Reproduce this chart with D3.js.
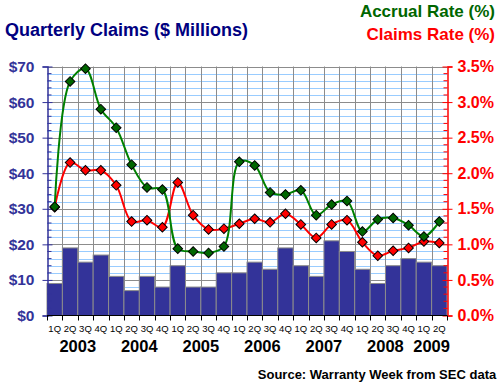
<!DOCTYPE html>
<html>
  <head>
    <meta charset="utf-8" />
    <script src="https://d3js.org/d3.v7.min.js"></script>
    <style>
      body { margin: 0; background: #ffffff; }
      text { font-family: Arial, "Liberation Sans", sans-serif; }
    </style>
  </head>
  <body>
    <div id="chart"></div>
    <script type="text/javascript">

      var w = 500, h = 387;

      var years = ["2003", "2004", "2005", "2006", "2007", "2008", "2009"];
      var quarters = [
        "1Q","2Q","3Q","4Q", "1Q","2Q","3Q","4Q", "1Q","2Q","3Q","4Q",
        "1Q","2Q","3Q","4Q", "1Q","2Q","3Q","4Q", "1Q","2Q","3Q","4Q",
        "1Q","2Q"
      ];
      // claims in $ millions
      var claims = [9, 19, 15, 17, 11, 7, 11, 8, 14, 8, 8, 12,
                    12, 15, 13, 19, 14, 11, 21, 18, 13, 9, 14, 16, 15, 14];
      // accrual rate (%)
      var accrualRate = [1.53, 3.29, 3.47, 2.90, 2.64, 2.12, 1.80, 1.77, 0.94, 0.90, 0.88, 0.97,
                         2.16, 2.11, 1.73, 1.70, 1.76, 1.41, 1.56, 1.61, 1.18, 1.35, 1.37, 1.27, 1.11, 1.32];
      // claims rate (%)
      var claimsRate = [1.52, 2.15, 2.04, 2.04, 1.83, 1.32, 1.34, 1.24, 1.87, 1.41, 1.21, 1.22,
                        1.29, 1.36, 1.31, 1.43, 1.28, 1.09, 1.28, 1.34, 1.03, 0.84, 0.91, 0.95, 1.04, 1.02];
      var leftTicks = [0, 10, 20, 30, 40, 50, 60, 70];
      var rightTicks = [0, 0.5, 1.0, 1.5, 2.0, 2.5, 3.0, 3.5];

      // plot area (note: "top" is taken by window.top)
      var pLeft = 47, pRight = 447, pTop = 66.5, pBottom = 315.5;

      var svg = d3.select("#chart").append("svg")
        .attr("width", w).attr("height", h);

      var idx = d3.range(claims.length);
      var x = d3.scaleBand().domain(idx).range([pLeft, pRight]).padding(0);
      var y = d3.scaleLinear().domain([0, 70]).range([pBottom, pTop]);
      var y2 = d3.scaleLinear().domain([0, 3.5]).range([pBottom, pTop]);

      // horizontal grid: light blue every $2, gray every $10
      svg.append("g").selectAll("line").data(d3.range(2, 71, 2)).enter().append("line")
        .attr("x1", pLeft).attr("x2", pRight)
        .attr("y1", function(d) { return Math.round(y(d)) + 0.5; })
        .attr("y2", function(d) { return Math.round(y(d)) + 0.5; })
        .attr("stroke", function(d) { return d % 10 === 0 ? "#8c8c8c" : "#99ccff"; })
        .attr("stroke-width", 1);

      // vertical grid at quarter boundaries
      svg.append("g").selectAll("line").data(idx.slice(1)).enter().append("line")
        .attr("x1", function(d) { return Math.round(x(d)) + 0.5; })
        .attr("x2", function(d) { return Math.round(x(d)) + 0.5; })
        .attr("y1", pTop).attr("y2", pBottom)
        .attr("stroke", "#8c8c8c").attr("stroke-width", 1);

      // bars
      svg.append("g").selectAll("rect").data(claims).enter().append("rect")
        .attr("x", function(d, i) { return x(i); })
        .attr("width", x.bandwidth())
        .attr("y", function(d) { return y(d); })
        .attr("height", function(d) { return pBottom - y(d); })
        .attr("fill", "#333399")
        .attr("stroke", "#8c8c8c").attr("stroke-width", 1);

      // left axis
      var la = svg.append("g").attr("transform", "translate(" + (pLeft + 0.5) + ",0)");
      la.call(d3.axisLeft(y).tickValues(leftTicks).tickSize(5).tickFormat(function(d) { return "$" + d; }));
      la.select(".domain").attr("stroke", "#333399").attr("stroke-width", 1.5);
      la.selectAll(".tick line").attr("stroke", "#333399").attr("x2", 5).attr("x1", -5);
      la.selectAll(".tick text").attr("fill", "#333399").attr("font-size", 15.5)
        .attr("font-weight", "bold").attr("x", -13)
        .style("font-family", "Arial, 'Liberation Sans', sans-serif");
      la.selectAll("line.minor").data(d3.range(2, 70, 2).filter(function(d) { return d % 10 !== 0; }))
        .enter().append("line").attr("class", "minor")
        .attr("x1", 0).attr("x2", 4)
        .attr("y1", function(d) { return y(d); }).attr("y2", function(d) { return y(d); })
        .attr("stroke", "#333399");

      // right axis
      var ra = svg.append("g").attr("transform", "translate(" + (pRight + 0.5) + ",0)");
      ra.call(d3.axisRight(y2).tickValues(rightTicks).tickSize(5).tickFormat(function(d) { return d.toFixed(1) + "%"; }));
      ra.select(".domain").attr("stroke", "#ff0000").attr("stroke-width", 1.5);
      ra.selectAll(".tick line").attr("stroke", "#ff0000").attr("x1", -5).attr("x2", 5);
      ra.selectAll(".tick text").attr("fill", "#ff0000").attr("font-size", 16)
        .attr("font-weight", "bold").attr("x", 10)
        .style("font-family", "Arial, 'Liberation Sans', sans-serif");
      ra.selectAll("line.minor").data(d3.range(1, 35).filter(function(d) { return d % 5 !== 0; }))
        .enter().append("line").attr("class", "minor")
        .attr("x1", -4).attr("x2", 0)
        .attr("y1", function(d) { return y2(d / 10); }).attr("y2", function(d) { return y2(d / 10); })
        .attr("stroke", "#ff0000");

      // bottom axis
      var ba = svg.append("g").attr("transform", "translate(0," + pBottom + ")");
      ba.append("line").attr("x1", pLeft).attr("x2", pRight).attr("stroke", "#000").attr("stroke-width", 1);
      ba.selectAll("line.tk").data(d3.range(0, claims.length + 1)).enter().append("line")
        .attr("class", "tk")
        .attr("x1", function(d) { return Math.round(pLeft + d * x.step()) + 0.5; })
        .attr("x2", function(d) { return Math.round(pLeft + d * x.step()) + 0.5; })
        .attr("y1", 0).attr("y2", 5).attr("stroke", "#000");
      ba.selectAll("text.q").data(quarters).enter().append("text").attr("class", "q")
        .attr("x", function(d, i) { return x(i) + x.bandwidth() / 2; })
        .attr("y", 16).attr("text-anchor", "middle")
        .attr("font-size", 9.5).attr("fill", "#000").text(function(d) { return d; });
      ba.selectAll("text.yr").data(years).enter().append("text").attr("class", "yr")
        .attr("x", function(d, i) {
          var a = i * 4, b = Math.min(i * 4 + 3, claims.length - 1);
          return (x(a) + x(b) + x.bandwidth()) / 2;
        })
        .attr("y", 36).attr("text-anchor", "middle")
        .attr("font-size", 16.5).attr("font-weight", "bold").attr("fill", "#000")
        .text(function(d) { return d; });

      // lines
      var diamond = d3.symbol().type(d3.symbolSquare).size(46);
      function drawSeries(data, lineColor, fill) {
        var line = d3.line()
          .x(function(d, i) { return x(i) + x.bandwidth() / 2; })
          .y(function(d) { return y2(d); })
          .curve(d3.curveCatmullRom.alpha(0.5));
        svg.append("path").datum(data).attr("d", line)
          .attr("fill", "none").attr("stroke", lineColor).attr("stroke-width", 2);
        svg.append("g").selectAll("path").data(data).enter().append("path")
          .attr("d", diamond)
          .attr("transform", function(d, i) {
            return "translate(" + (x(i) + x.bandwidth() / 2) + "," + y2(d) + ") rotate(45)";
          })
          .attr("fill", fill).attr("stroke", "#000").attr("stroke-width", 1);
      }
      drawSeries(claimsRate, "#ff0000", "#ff0000");
      drawSeries(accrualRate, "#008000", "#006600");

      // titles
      svg.append("text").attr("x", 5).attr("y", 36)
        .attr("font-size", 18).attr("font-weight", "bold").attr("fill", "#000080")
        .text("Quarterly Claims ($ Millions)");
      svg.append("text").attr("x", 495).attr("y", 17).attr("text-anchor", "end")
        .attr("font-size", 17).attr("font-weight", "bold").attr("fill", "#006600")
        .text("Accrual Rate (%)");
      svg.append("text").attr("x", 495).attr("y", 40).attr("text-anchor", "end")
        .attr("font-size", 17).attr("font-weight", "bold").attr("fill", "#ff0000")
        .text("Claims Rate (%)");
      svg.append("text").attr("x", 377).attr("y", 379).attr("text-anchor", "middle")
        .attr("font-size", 13).attr("font-weight", "bold").attr("fill", "#000")
        .text("Source: Warranty Week from SEC data");

    </script>
  </body>
</html>
